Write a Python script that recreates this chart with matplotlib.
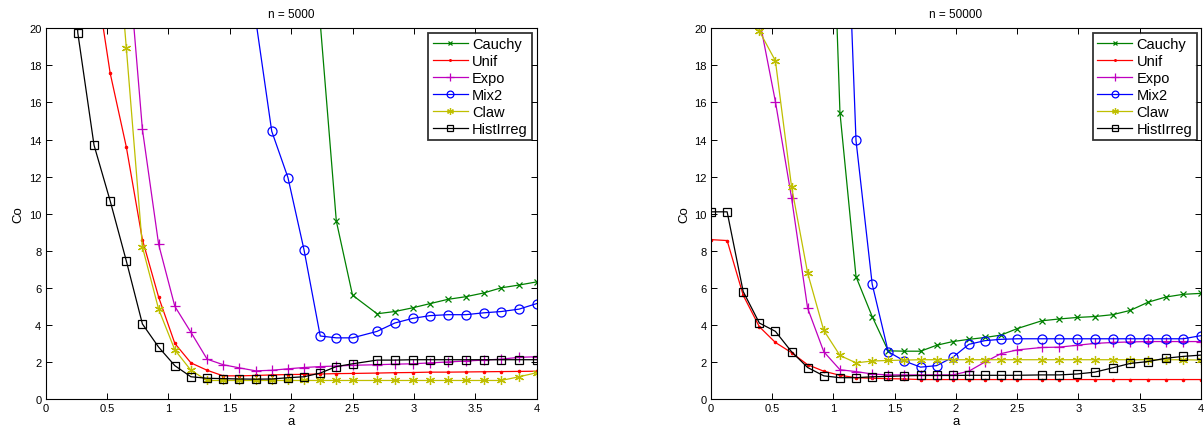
import matplotlib
matplotlib.use("Agg")
import matplotlib.pyplot as plt

plt.rcParams['font.family'] = ['Liberation Sans', 'DejaVu Sans']

# x grid (a values)
a = [0.0, 0.132, 0.263, 0.395, 0.526, 0.658, 0.789, 0.921, 1.053, 1.184,
     1.316, 1.447, 1.579, 1.711, 1.842, 1.974, 2.105, 2.237, 2.368, 2.5,
     2.7, 2.844, 2.989, 3.133, 3.278, 3.422, 3.567, 3.711, 3.856, 4.0]

# n = 5000 (values above 20 are off the visible range, estimated)
c5_cauchy = [90, 85, 80, 75, 70, 65, 60, 55, 50, 46, 42, 38, 35, 32, 29, 27, 24, 20.3,
             9.6, 5.6, 4.6, 4.72, 4.92, 5.15, 5.38, 5.52, 5.72, 6.0, 6.15, 6.32]
c5_unif = [45, 33, 27, 23.3, 17.6, 13.6, 8.6, 5.5, 3.0, 1.95, 1.55, 1.25, 1.25, 1.27, 1.3,
           1.32, 1.33, 1.35, 1.37, 1.38, 1.4, 1.42, 1.43, 1.45, 1.45, 1.46, 1.47, 1.48, 1.49, 1.5]
c5_expo = [60, 45, 37, 31, 27, 25.0, 14.55, 8.35, 5.0, 3.6, 2.15, 1.85, 1.68, 1.52, 1.55,
           1.63, 1.7, 1.75, 1.78, 1.82, 1.85, 1.88, 1.9, 1.95, 2.0, 2.05, 2.1, 2.15, 2.25, 2.28]
c5_mix2 = [90, 85, 80, 75, 70, 65, 60, 55, 50, 45, 38, 32, 26, 20.5, 14.45, 11.95, 8.05,
           3.4, 3.3, 3.3, 3.65, 4.1, 4.35, 4.5, 4.55, 4.55, 4.65, 4.72, 4.85, 5.15]
c5_claw = [60, 50, 40, 35, 29.5, 18.95, 8.2, 4.85, 2.65, 1.55, 1.0, 1.0, 1.0, 1.0, 1.0,
           1.0, 1.0, 1.0, 1.0, 1.0, 1.0, 1.0, 1.0, 1.0, 1.0, 1.0, 1.0, 1.0, 1.2, 1.42]
c5_hist = [50, 35, 19.75, 13.7, 10.7, 7.45, 4.05, 2.8, 1.8, 1.2, 1.12, 1.1, 1.08, 1.07, 1.08,
           1.15, 1.2, 1.4, 1.75, 1.9, 2.1, 2.1, 2.12, 2.12, 2.12, 2.12, 2.12, 2.12, 2.12, 2.12]

# n = 50000
c50_cauchy = [80, 70, 60, 55, 50, 46, 43, 41, 15.45, 6.6, 4.45, 2.6, 2.58, 2.58, 2.9,
              3.1, 3.22, 3.32, 3.45, 3.8, 4.22, 4.32, 4.4, 4.45, 4.55, 4.78, 5.22, 5.5, 5.65, 5.7]
c50_unif = [8.6, 8.55, 5.6, 3.9, 3.05, 2.5, 1.85, 1.5, 1.28, 1.15, 1.12, 1.1, 1.08, 1.05,
            1.05, 1.05, 1.05, 1.05, 1.05, 1.05, 1.05, 1.05, 1.05, 1.05, 1.05, 1.05, 1.05,
            1.05, 1.05, 1.05]
c50_expo = [45, 38, 30, 20.5, 16.05, 10.85, 4.9, 2.55, 1.58, 1.48, 1.35, 1.3, 1.3, 1.3, 1.3,
            1.3, 1.5, 2.0, 2.45, 2.65, 2.78, 2.8, 2.9, 3.0, 3.05, 3.08, 3.1, 3.1, 3.1, 3.1]
c50_mix2 = [90, 80, 70, 65, 60, 55, 50, 44, 37, 13.95, 6.2, 2.55, 2.05, 1.72, 1.8, 2.25,
            2.95, 3.15, 3.22, 3.25, 3.25, 3.25, 3.25, 3.25, 3.25, 3.25, 3.25, 3.25, 3.25, 3.42]
c50_claw = [40, 32, 25, 19.85, 18.25, 11.45, 6.8, 3.7, 2.35, 1.95, 2.05, 2.08, 2.1, 2.12,
            2.12, 2.12, 2.12, 2.12, 2.12, 2.12, 2.12, 2.12, 2.12, 2.12, 2.12, 2.12, 2.12,
            2.12, 2.12, 2.1]
c50_hist = [10.1, 10.1, 5.8, 4.1, 3.65, 2.55, 1.7, 1.25, 1.15, 1.15, 1.2, 1.22, 1.25, 1.27,
            1.27, 1.27, 1.28, 1.28, 1.28, 1.28, 1.3, 1.3, 1.35, 1.45, 1.68, 1.92, 2.02, 2.2,
            2.3, 2.37]

names = ['Cauchy', 'Unif', 'Expo', 'Mix2', 'Claw', 'HistIrreg']
titles = ['n = 5000', 'n = 50000']
xticks = [0, 0.5, 1, 1.5, 2, 2.5, 3, 3.5, 4]
yticks = [0, 2, 4, 6, 8, 10, 12, 14, 16, 18, 20]

styles = [
    dict(color=(0, 0.5, 0), marker='x', ms=4.5, mew=0.9),
    dict(color=(1, 0, 0), marker='.', ms=3.5, mew=0.8),
    dict(color=(0.75, 0, 0.75), marker='+', ms=7, mew=0.9),
    dict(color=(0, 0, 1), marker='o', ms=6.5, mew=0.9, mfc='none'),
    dict(color=(0.75, 0.75, 0), marker=(6, 2, 0), ms=6.5, mew=0.9),
    dict(color=(0, 0, 0), marker='s', ms=5.5, mew=0.9, mfc='none'),
]

panels = [
    [c5_cauchy, c5_unif, c5_expo, c5_mix2, c5_claw, c5_hist],
    [c50_cauchy, c50_unif, c50_expo, c50_mix2, c50_claw, c50_hist],
]

fig = plt.figure(figsize=(12.04, 4.31), dpi=100)
rects = [[0.0378, 0.0719, 0.408, 0.860], [0.5905, 0.0719, 0.407, 0.860]]

for rect, title, series in zip(rects, titles, panels):
    ax = fig.add_axes(rect)
    for name, ys, st in zip(names, series, styles):
        ax.plot(a, ys, lw=0.9, label=name, **st)
    ax.set_xlim(0, 4)
    ax.set_ylim(0, 20)
    ax.set_xticks(xticks)
    ax.set_xticklabels(['0', '0.5', '1', '1.5', '2', '2.5', '3', '3.5', '4'])
    ax.set_yticks(yticks)
    ax.tick_params(direction='in', top=True, right=True, labelsize=8,
                   length=4, width=0.7, pad=3)
    for sp in ax.spines.values():
        sp.set_linewidth(0.8)
    ax.set_title(title, fontsize=8.5, pad=8)
    ax.set_xlabel('a', fontsize=9.5, labelpad=1.5)
    ax.set_ylabel('Co', fontsize=9.5, labelpad=3)
    leg = ax.legend(loc='upper right', fontsize=10.5, frameon=True, fancybox=False,
                    borderaxespad=0.3, handlelength=2.4, handletextpad=0.3,
                    labelspacing=0.2, borderpad=0.3, markerscale=0.75)
    leg.get_frame().set_edgecolor('black')
    leg.get_frame().set_linewidth(1.3)

fig.savefig('out.png', dpi=100)
